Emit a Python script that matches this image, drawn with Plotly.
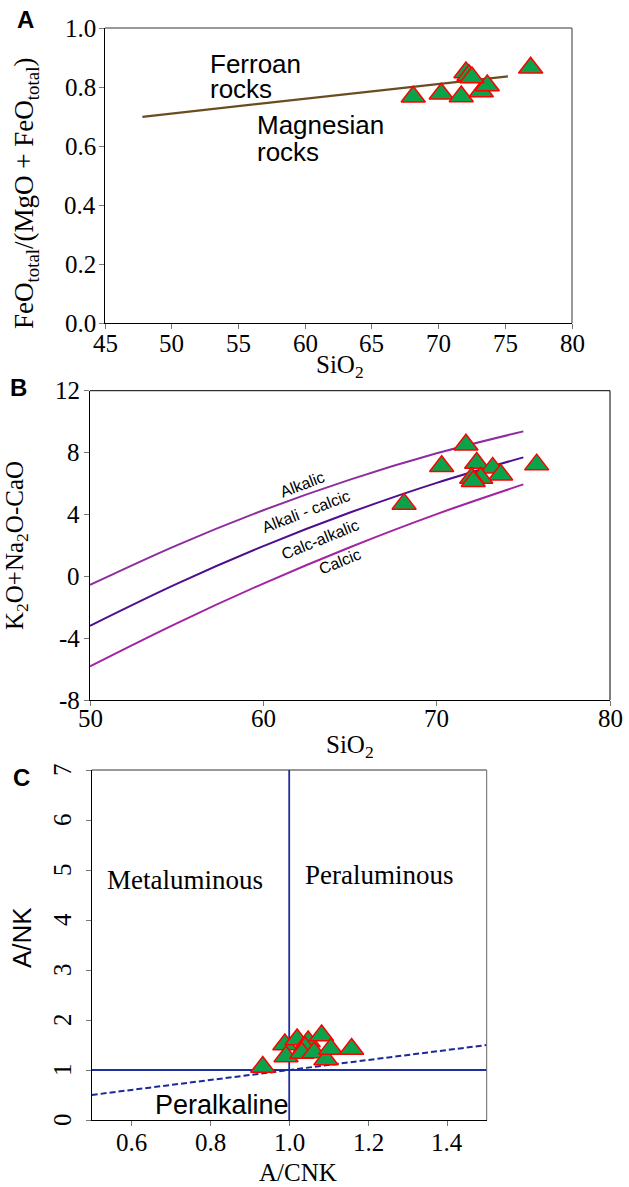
import plotly.graph_objects as go

W, H = 629, 1187

# ---------------- Data ----------------
# Panel A: FeOtotal/(MgO+FeOtotal) vs SiO2
a_sio2 = [68.1, 70.2, 71.7, 73.2, 73.65, 72.05, 72.28, 72.5, 76.9]
a_fe_ratio = [0.767, 0.777, 0.768, 0.785, 0.805, 0.849, 0.840, 0.832, 0.865]
a_line_sio2 = [47.8, 75.2]
a_line_ratio = [0.699, 0.836]
a_xticks = [45, 50, 55, 60, 65, 70, 75, 80]
a_yticks = [0.0, 0.2, 0.4, 0.6, 0.8, 1.0]

# Panel B: MALI (K2O+Na2O-CaO) vs SiO2
b_sio2 = [68.12, 70.29, 71.69, 72.31, 73.23, 73.69, 72.54, 72.02, 72.11, 75.77]
b_mali = [4.68, 7.11, 8.51, 7.33, 7.01, 6.57, 6.36, 6.36, 6.14, 7.22]
b_curve_sio2 = [50, 55, 60, 65, 70, 75]
b_alkalic = [-0.56, 2.00, 4.27, 6.25, 7.95, 9.37]
b_alkali_calcic = [-3.20, -0.49, 1.95, 4.12, 6.04, 7.69]
b_calc_alkalic = [-5.82, -3.04, -0.47, 1.88, 4.02, 5.94]
b_xticks = [50, 60, 70, 80]
b_yticks = [-8, -4, 0, 4, 8, 12]

# Panel C: A/NK vs A/CNK
c_acnk = [0.933, 0.989, 0.992, 1.020, 1.048, 1.040, 1.032, 1.063, 1.082, 1.093, 1.105, 1.158]
c_ank = [1.06, 1.51, 1.27, 1.61, 1.57, 1.45, 1.34, 1.35, 1.69, 1.21, 1.42, 1.42]
c_ref_x = [0.5, 1.5]
c_ref_y = [0.5, 1.5]
c_xticks = [0.6, 0.8, 1.0, 1.2, 1.4]
c_yticks = [0, 1, 2, 3, 4, 5, 6, 7]

SERIF = "Liberation Serif"
SANS = "Liberation Sans"

def dom(px0, px1, py0, py1):
    return [px0 / W, px1 / W], [1 - py1 / H, 1 - py0 / H]

ax_a, ay_a = dom(105, 572, 28, 323)
ax_b, ay_b = dom(90, 610, 390.7, 700)
ax_c, ay_c = dom(91.7, 486.7, 770, 1120)

marker = dict(symbol="triangle-up", size=21, color="#0AA24A",
              line=dict(color="#FF0000", width=1.5))

fig = go.Figure()

# Panel A
fig.add_trace(go.Scatter(x=a_line_sio2, y=a_line_ratio, mode="lines",
                         line=dict(color="#6B4C1E", width=2.2),
                         xaxis="x", yaxis="y", showlegend=False))
fig.add_trace(go.Scatter(x=a_sio2, y=a_fe_ratio, mode="markers", marker=marker,
                         xaxis="x", yaxis="y", showlegend=False))

# Panel B
for ys, col in [(b_alkalic, "#8E2CA0"), (b_alkali_calcic, "#4E0F8E"), (b_calc_alkalic, "#A224A2")]:
    fig.add_trace(go.Scatter(x=b_curve_sio2, y=ys, mode="lines", line_shape="spline",
                             line=dict(color=col, width=2),
                             xaxis="x2", yaxis="y2", showlegend=False))
fig.add_trace(go.Scatter(x=b_sio2, y=b_mali, mode="markers", marker=marker,
                         xaxis="x2", yaxis="y2", showlegend=False))

# Panel C
fig.add_trace(go.Scatter(x=c_ref_x, y=c_ref_y, mode="lines",
                         line=dict(color="#1A2A9A", width=2, dash="6px,3px"),
                         xaxis="x3", yaxis="y3", showlegend=False))
fig.add_trace(go.Scatter(x=c_acnk, y=c_ank, mode="markers", marker=marker,
                         xaxis="x3", yaxis="y3", showlegend=False))


def axis(**kw):
    d = dict(showline=True, linecolor="black", linewidth=1, ticks="outside",
             ticklen=5, tickcolor="#777", tickwidth=1, showgrid=False,
             zeroline=False, mirror=False, showticklabels=False)
    d.update(kw)
    return d


fig.update_layout(
    template="none",
    font=dict(family=SERIF, size=25, color="black"),
    width=W, height=H, margin=dict(l=0, r=0, t=0, b=0),
    paper_bgcolor="white", plot_bgcolor="white",
    xaxis=axis(domain=ax_a, anchor="y", range=[45, 80], tickvals=a_xticks),
    yaxis=axis(domain=ay_a, anchor="x", range=[0, 1.0], tickvals=a_yticks),
    xaxis2=axis(domain=ax_b, anchor="y2", range=[50, 80], tickvals=b_xticks),
    yaxis2=axis(domain=ay_b, anchor="x2", range=[-8, 12], tickvals=b_yticks),
    xaxis3=axis(domain=ax_c, anchor="y3", range=[0.5, 1.5], tickvals=c_xticks),
    yaxis3=axis(domain=ay_c, anchor="x3", range=[0, 7], tickvals=c_yticks),
)

shapes = []
# Panel A box top/right (gray)
shapes.append(dict(type="line", xref="x domain", yref="y domain", x0=0, x1=1, y0=1, y1=1,
                   line=dict(color="#777", width=1.5)))
shapes.append(dict(type="line", xref="x domain", yref="y domain", x0=1, x1=1, y0=0, y1=1,
                   line=dict(color="#777", width=1.5)))
# Panel B box top/right (black)
shapes.append(dict(type="line", xref="x2 domain", yref="y2 domain", x0=0, x1=1, y0=1, y1=1,
                   line=dict(color="black", width=1)))
shapes.append(dict(type="line", xref="x2 domain", yref="y2 domain", x0=1, x1=1, y0=0, y1=1,
                   line=dict(color="black", width=1)))
# Panel C box top/right
shapes.append(dict(type="line", xref="x3 domain", yref="y3 domain", x0=0, x1=1, y0=1, y1=1,
                   line=dict(color="#333", width=1)))
shapes.append(dict(type="line", xref="x3 domain", yref="y3 domain", x0=1, x1=1, y0=0, y1=1,
                   line=dict(color="#666", width=1)))
# Panel C dividing lines
shapes.append(dict(type="line", xref="x3", yref="y3 domain", x0=1.0, x1=1.0, y0=0, y1=1,
                   line=dict(color="#1F2F9F", width=1.8), layer="below"))
shapes.append(dict(type="line", xref="x3 domain", yref="y3", x0=0, x1=1, y0=1.0, y1=1.0,
                   line=dict(color="#1F2F9F", width=1.8), layer="below"))
fig.update_layout(shapes=shapes)


def ann(text, x, y, size, family, angle=0, bold=False, xanchor="center", yanchor="middle",
        xref="paper", yref="paper"):
    if bold:
        text = "<b>" + text + "</b>"
    xx = x / W if xref == "paper" else x
    yy = 1 - y / H if yref == "paper" else y
    fig.add_annotation(text=text, x=xx, y=yy, xref=xref, yref=yref,
                       showarrow=False, textangle=angle, xanchor=xanchor, yanchor=yanchor,
                       font=dict(family=family, size=size, color="black"))


# ---- Tick labels ----
for v in a_xticks:
    ann(str(v), v, 343, 25, SERIF, xref="x")
for v in a_yticks:
    ann(f"{v:.1f}", 98, v, 25, SERIF, xanchor="right", yref="y")
for v in b_xticks:
    ann(str(v), v, 718, 25, SERIF, xref="x2")
for v in b_yticks:
    ann(str(v), 82, v, 25, SERIF, xanchor="right", yref="y2")
for v in c_xticks:
    ann(f"{v:.1f}", v, 1142, 25, SERIF, xref="x3")
for v in c_yticks:
    ann(str(v), 62, v, 25, SERIF, angle=-90, yref="y3")

# ---- Axis titles ----
ann("SiO<sub>2</sub>", 340, 366, 25, SERIF)
ann("FeO<sub>total</sub>/(MgO + FeO<sub>total</sub>)", 26, 194, 27, SERIF, angle=-90)
ann("SiO<sub>2</sub>", 350, 746, 25, SERIF)
ann("K<sub>2</sub>O+Na<sub>2</sub>O-CaO", 17, 546, 25, SERIF, angle=-90)
ann("A/CNK", 298, 1172, 25, SERIF)
ann("A/NK", 22, 938, 26, SANS, angle=-90)

# Panel letters
ann("A", 26, 19, 24, SANS, bold=True)
ann("B", 18, 387, 24, SANS, bold=True)
ann("C", 21, 777, 24, SANS, bold=True)

# Panel A region labels
ann("Ferroan", 208, 81, 26, SANS, xanchor="left", yanchor="bottom")
ann("rocks", 208, 106, 26, SANS, xanchor="left", yanchor="bottom")
ann("Magnesian", 255, 142, 26, SANS, xanchor="left", yanchor="bottom")
ann("rocks", 255, 169, 26, SANS, xanchor="left", yanchor="bottom")

# Panel B curve labels
ann("Alkalic", 302, 484, 16, SANS, angle=-21)
ann("Alkali - calcic", 306, 512, 16, SANS, angle=-21)
ann("Calc-alkalic", 320, 539, 16, SANS, angle=-22)
ann("Calcic", 340, 561, 16, SANS, angle=-22)

# Panel C field labels
ann("Metaluminous", 185, 880, 27, SERIF)
ann("Peraluminous", 379, 875, 27, SERIF)
ann("Peralkaline", 222, 1105, 27, SANS)

fig.write_html("out.html")
